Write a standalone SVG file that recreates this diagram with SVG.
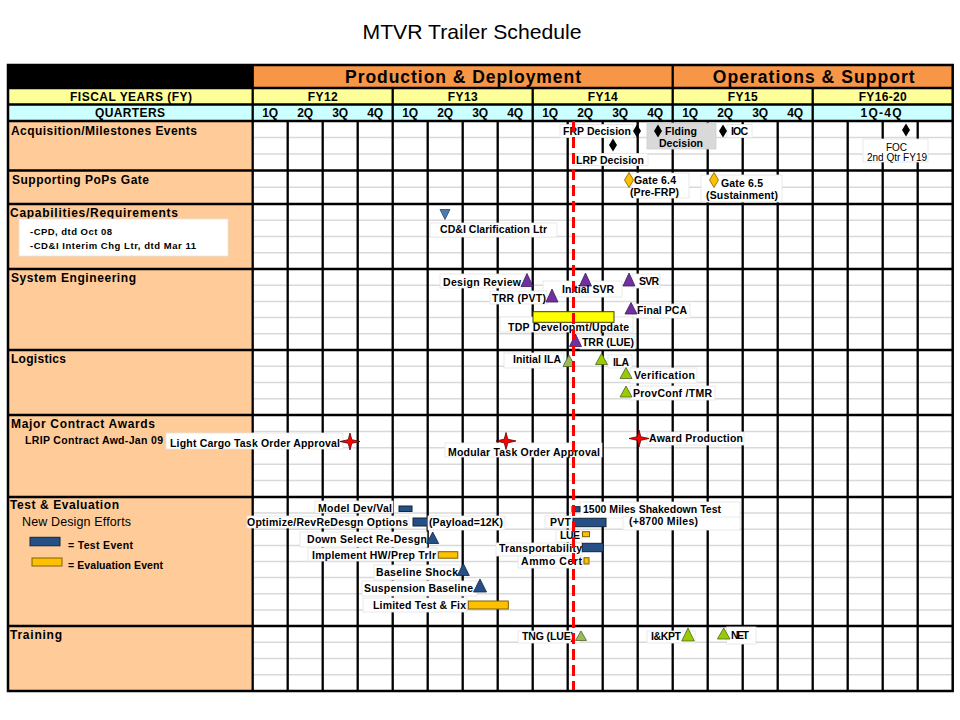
<svg xmlns="http://www.w3.org/2000/svg" xmlns:xlink="http://www.w3.org/1999/xlink" width="960" height="720" viewBox="0 0 960 720">
<style>
text{font-family:"Liberation Sans",Arial,Helvetica,sans-serif;fill:#000}
.b{font-weight:bold}
.l{font-size:10.5px;font-weight:bold}
.h{font-size:12px;font-weight:bold}
.box{fill:#fff;stroke:#e3e3e3;stroke-width:0.8}
.gbox{fill:#d9d9d9;stroke:#cfcfcf;stroke-width:0.8}
.pur{fill:#7030a0;stroke:#3c1a58;stroke-width:0.8}
.lg{fill:#9bbb59;stroke:#4f6228;stroke-width:0.8}
.bg{fill:#99cc00;stroke:#4f6228;stroke-width:0.8}
.bt{fill:#254f85;stroke:#10253f;stroke-width:0.8}
.bbar{fill:#254f85;stroke:#10253f;stroke-width:1}
.gbar{fill:#ffc000;stroke:#7f6000;stroke-width:1}
.ybar{fill:#ffff00;stroke:#404000;stroke-width:1}
.sub{stroke:#d9d9d9;stroke-width:1.5;fill:none}
.vl{stroke:#000;stroke-width:2.3;fill:none}
.hl{stroke:#000;stroke-width:2.5;fill:none}
</style>
<defs>
<path id="dia" d="M0,-6.5 L4,0 L0,6.5 L-4,0Z" fill="#000"/>
<path id="gdia" d="M0,-7.5 L4.5,0 L0,7.5 L-4.5,0Z" fill="#ffc000" stroke="#7f6000" stroke-width="0.8"/>
<path id="star" d="M-10,0 L-1.8,-1.8 L0,-8.5 L1.8,-1.8 L10,0 L1.8,1.8 L0,8.5 L-1.8,1.8Z" fill="#ff0000" stroke="#5a0000" stroke-width="0.8"/>
</defs>

<g id="title">
<text x="472" y="39.3" font-size="21" text-anchor="middle" textLength="219" lengthAdjust="spacingAndGlyphs">MTVR Trailer Schedule</text>
</g>

<g id="table">
<rect x="8" y="65" width="244.7" height="23" fill="#000"/>
<rect x="252.7" y="65" width="700" height="23" fill="#f79646"/>
<rect x="8" y="88" width="944.7" height="16.5" fill="#ffff99"/>
<rect x="8" y="104.5" width="944.7" height="16.5" fill="#ccffff"/>
<rect x="8" y="121" width="244.7" height="570" fill="#ffcc99"/>
<rect x="252.7" y="121" width="700" height="570" fill="#fff"/>
<path class="sub" d="M252.7,137.5H952.7M252.7,154H952.7M252.7,187.2H952.7M252.7,220.25H952.7M252.7,236.5H952.7M252.7,252.75H952.7M252.7,285.2H952.7M252.7,301.4H952.7M252.7,317.6H952.7M252.7,333.8H952.7M252.7,366.25H952.7M252.7,382.5H952.7M252.7,398.75H952.7M252.7,431.4H952.7M252.7,447.8H952.7M252.7,464.2H952.7M252.7,480.6H952.7M252.7,513.1H952.7M252.7,529.25H952.7M252.7,545.4H952.7M252.7,561.5H952.7M252.7,577.6H952.7M252.7,593.75H952.7M252.7,609.9H952.7M252.7,642.25H952.7M252.7,658.5H952.7M252.7,674.75H952.7"/>
<path class="vl" d="M287.7,121V691M322.7,121V691M357.7,121V691M392.7,88V691M427.7,121V691M462.7,121V691M497.7,121V691M532.7,88V691M567.7,121V691M602.7,121V691M637.7,121V691M672.7,65V691M707.7,121V691M742.7,121V691M777.7,121V691M812.7,88V691M847.7,121V691M882.7,121V691M917.7,121V691M252.7,65V691"/>
<path class="hl" d="M8,88H952.7M8,104.5H952.7M8,121H952.7M8,170.5H952.7M8,204H952.7M8,269H952.7M8,350H952.7M8,415H952.7M8,497H952.7M8,626H952.7"/>
<rect x="8" y="65" width="944.7" height="626" fill="none" stroke="#000" stroke-width="2.5"/>

<text x="463" y="82.7" font-size="17.5" class="b" text-anchor="middle" textLength="236">Production &amp; Deployment</text>
<text x="813.7" y="82.7" font-size="17.5" class="b" text-anchor="middle" textLength="202">Operations &amp; Support</text>

<text x="131" y="101" class="h" text-anchor="middle" textLength="122">FISCAL YEARS (FY)</text>
<text x="322.7" y="101" class="h" text-anchor="middle" textLength="30">FY12</text>
<text x="462.7" y="101" class="h" text-anchor="middle" textLength="30">FY13</text>
<text x="602.7" y="101" class="h" text-anchor="middle" textLength="30">FY14</text>
<text x="742.7" y="101" class="h" text-anchor="middle" textLength="30">FY15</text>
<text x="882.7" y="101" class="h" text-anchor="middle" textLength="48">FY16-20</text>

<text x="130" y="117.3" class="h" text-anchor="middle" textLength="70">QUARTERS</text>
<g class="h" text-anchor="middle">
<text x="270.2" y="117.3">1Q</text><text x="305.2" y="117.3">2Q</text><text x="340.2" y="117.3">3Q</text><text x="375.2" y="117.3">4Q</text>
<text x="410.2" y="117.3">1Q</text><text x="445.2" y="117.3">2Q</text><text x="480.2" y="117.3">3Q</text><text x="515.2" y="117.3">4Q</text>
<text x="550.2" y="117.3">1Q</text><text x="585.2" y="117.3">2Q</text><text x="620.2" y="117.3">3Q</text><text x="655.2" y="117.3">4Q</text>
<text x="690.2" y="117.3">1Q</text><text x="725.2" y="117.3">2Q</text><text x="760.2" y="117.3">3Q</text><text x="795.2" y="117.3">4Q</text>
</g>
<text x="881" y="117.3" class="h" text-anchor="middle" textLength="41">1Q-4Q</text>

<text x="11" y="135" class="h" textLength="186">Acquisition/Milestones Events</text>
<text x="12" y="184" class="h" textLength="137">Supporting PoPs Gate</text>
<text x="10" y="216.7" class="h" textLength="168">Capabilities/Requirements</text>
<text x="11" y="281.7" class="h" textLength="125">System Engineering</text>
<text x="11" y="363" class="h" textLength="55">Logistics</text>
<text x="11" y="427.5" class="h" textLength="144">Major Contract Awards</text>
<text x="10" y="509" class="h" textLength="109">Test &amp; Evaluation</text>
<text x="22" y="526" font-size="12.5" textLength="109">New Design Efforts</text>
<text x="10" y="639" class="h" textLength="52">Training</text>
</g>

<g id="cap-note">
<rect x="19" y="219" width="209" height="37" fill="#fff" stroke="#e3e3e3" stroke-width="0.8"/>
<text x="30" y="235" font-size="9.5" class="b" textLength="82">-CPD, dtd Oct 08</text>
<text x="30" y="249" font-size="9.5" class="b" textLength="166">-CD&amp;I Interim Chg Ltr, dtd Mar 11</text>
</g>

<g id="lrip-note">
<text x="25" y="444" class="l" textLength="138">LRIP Contract Awd-Jan 09</text>
</g>

<g id="legend">
<rect x="30" y="537.3" width="30" height="8.5" class="bbar"/>
<text x="68" y="549.3" class="l" textLength="65">= Test Event</text>
<rect x="32" y="558" width="30" height="8" class="gbar"/>
<text x="68" y="569" class="l" textLength="95">= Evaluation Event</text>
</g>

<g id="connectors"></g>

<g id="frp-decision">
<rect x="560" y="124.5" width="73" height="13" class="box"/>
<text x="563" y="134.5" class="l" textLength="68">FRP Decision</text>
<use xlink:href="#dia" x="637" y="131"/>
</g>
<g id="lrp-decision">
<rect x="573" y="153.5" width="75" height="12" class="box"/>
<text x="576" y="163.5" class="l" textLength="68">LRP Decision</text>
<use xlink:href="#dia" x="613" y="145"/>
</g>
<g id="flding-decision">
<rect x="647" y="123" width="69" height="26" class="gbox"/>
<use xlink:href="#dia" x="658" y="131"/>
<text x="665" y="135" class="l" textLength="32">Flding</text>
<text x="659" y="147" class="l" textLength="44">Decision</text>
</g>
<g id="ioc">
<rect x="727" y="124.5" width="25" height="13" class="box"/>
<use xlink:href="#dia" x="723" y="131"/>
<text x="731" y="134.5" class="l" textLength="17">IOC</text>
</g>
<g id="foc">
<use xlink:href="#dia" x="906" y="130"/>
<rect x="863" y="139" width="65" height="23" class="box"/>
<text x="896.5" y="150.5" font-size="10" text-anchor="middle">FOC</text>
<text x="897" y="160.5" font-size="10" text-anchor="middle" textLength="60">2nd Qtr FY19</text>
</g>

<g id="gate-6-4">
<rect x="632" y="173" width="57" height="25" class="box"/>
<use xlink:href="#gdia" x="629" y="180"/>
<text x="634" y="184" class="l" textLength="42">Gate 6.4</text>
<text x="630" y="195.5" class="l" textLength="49">(Pre-FRP)</text>
</g>
<g id="gate-6-5">
<rect x="701" y="175" width="81" height="27" class="box"/>
<use xlink:href="#gdia" x="714" y="180"/>
<text x="721" y="187" class="l" textLength="42">Gate 6.5</text>
<text x="706" y="199" class="l" textLength="72">(Sustainment)</text>
</g>

<g id="cdi-clarification">
<polygon points="440,209.5 450,209.5 445,219.5" fill="#4f7bab" stroke="#2a4a70" stroke-width="0.8"/>
<rect x="430" y="223" width="127" height="14" class="box"/>
<text x="440" y="233.3" class="l" textLength="107">CD&amp;I Clarification  Ltr</text>
</g>

<g id="design-review">
<rect x="440" y="274" width="86" height="14" class="box"/>
<text x="443" y="285.5" class="l" textLength="78">Design Review</text>
<polygon points="527,273.5 533,286.5 521,286.5" class="pur"/>
</g>
<g id="initial-svr">
<rect x="543" y="281" width="79" height="16" class="box"/>
<polygon points="585.5,273 591.5,286 579.5,286" class="pur"/>
<text x="562" y="293.3" class="l" textLength="52">Initial SVR</text>
</g>
<g id="svr">
<rect x="632" y="274" width="28" height="14" class="box"/>
<polygon points="629,273 635,286 623,286" class="pur"/>
<text x="639" y="285.3" class="l" textLength="20">SVR</text>
</g>
<g id="trr-pvt">
<rect x="490" y="291" width="57" height="13" class="box"/>
<text x="492" y="301.5" class="l" textLength="54">TRR (PVT)</text>
<polygon points="552,289 558,302 546,302" class="pur"/>
</g>
<g id="final-pca">
<rect x="633" y="304" width="57" height="14" class="box"/>
<polygon points="631,302.5 637,314 625,314" class="pur"/>
<text x="637" y="314" class="l" textLength="50">Final PCA</text>
</g>
<g id="tdp-development">
<rect x="500" y="317" width="133" height="15" class="box"/>
<rect x="533" y="311.7" width="81" height="10.6" class="ybar"/>
<text x="508" y="331" class="l" textLength="121">TDP Developmt/Update</text>
</g>
<g id="trr-lue">
<rect x="580" y="336" width="55" height="13" class="box"/>
<polygon points="575.5,334 581.5,346.5 569.5,346.5" class="pur"/>
<text x="582" y="346.3" class="l" textLength="52">TRR (LUE)</text>
</g>

<g id="initial-ila">
<rect x="504" y="353" width="60" height="15" class="box"/>
<text x="513" y="363.3" class="l" textLength="48">Initial ILA</text>
<polygon points="569,355 575,366.5 563,366.5" class="lg"/>
</g>
<g id="ila">
<rect x="608" y="355" width="24" height="13" class="box"/>
<polygon points="601.5,353.5 607.5,364.5 595.5,364.5" class="bg"/>
<text x="613" y="366" class="l" textLength="16">ILA</text>
</g>
<g id="verification">
<rect x="630" y="368" width="67" height="15" class="box"/>
<polygon points="626,367.5 632,378.5 620,378.5" class="bg"/>
<text x="634" y="378.7" class="l" textLength="61">Verification</text>
</g>
<g id="provconf-tmr">
<rect x="630" y="386" width="85" height="14" class="box"/>
<polygon points="626,386 632,397 620,397" class="bg"/>
<text x="633" y="396.8" class="l" textLength="79">ProvConf /TMR</text>
</g>

<g id="light-cargo-approval">
<rect x="166" y="433" width="177" height="16" class="box"/>
<text x="170" y="446.5" class="l" textLength="170">Light Cargo Task Order Approval</text>
<use xlink:href="#star" x="350" y="441.5"/>
</g>
<g id="modular-approval">
<rect x="445" y="443" width="157" height="14" class="box"/>
<use xlink:href="#star" x="506" y="441"/>
<text x="448" y="456" class="l" textLength="152">Modular Task Order Approval</text>
</g>
<g id="award-production">
<rect x="647" y="432" width="97" height="13" class="box"/>
<use xlink:href="#star" x="639" y="438.5"/>
<text x="649" y="442.3" class="l" textLength="94">Award Production</text>
</g>

<g id="model-dev-val">
<rect x="315" y="501" width="78" height="12" class="box"/>
<text x="318" y="512.3" class="l" textLength="74">Model Dev/Val</text>
<rect x="399" y="506" width="13" height="5.5" class="bbar"/>
</g>
<g id="optimize-redesign">
<rect x="247" y="516" width="162" height="12" class="box"/>
<text x="247" y="525.8" class="l" textLength="161">Optimize/RevReDesgn Options</text>
<rect x="413" y="518" width="15" height="8" class="bbar"/>
<rect x="428" y="516" width="77" height="14" class="box"/>
<text x="429" y="526" class="l" textLength="74">(Payload=12K)</text>
</g>
<g id="down-select">
<rect x="300" y="532" width="127" height="15" class="box"/>
<text x="307" y="543" class="l" textLength="120">Down Select Re-Desgn</text>
<polygon points="432.7,532 438.7,543.5 426.7,543.5" class="bt"/>
</g>
<g id="implement-hw">
<rect x="308" y="548" width="129" height="13" class="box"/>
<text x="312" y="559" class="l" textLength="124">Implement HW/Prep Trlr</text>
<rect x="438.3" y="551.7" width="19.5" height="6.5" class="gbar"/>
</g>
<g id="baseline-shock">
<rect x="374" y="565" width="86" height="15" class="box"/>
<text x="376" y="575.7" class="l" textLength="82">Baseline Shock</text>
<polygon points="463.3,563.5 469.3,575.5 457.3,575.5" class="bt"/>
</g>
<g id="suspension-baseline">
<rect x="362" y="581" width="115" height="15" class="box"/>
<text x="364" y="591.7" class="l" textLength="109">Suspension Baseline</text>
<polygon points="480,579 486.5,592 473.5,592" class="bt"/>
</g>
<g id="limited-test-fix">
<rect x="363" y="598" width="104" height="14" class="box"/>
<text x="373" y="609" class="l" textLength="93">Limited Test &amp; Fix</text>
<rect x="468.3" y="601" width="40" height="8" class="gbar"/>
</g>
<g id="shakedown-test">
<rect x="580" y="502" width="160" height="16" class="box"/>
<rect x="572" y="506.7" width="8" height="5" class="bbar"/>
<text x="583" y="513.3" class="l" textLength="138">1500 Miles Shakedown Test</text>
<rect x="623" y="517" width="117" height="13" class="box"/>
<text x="629" y="525" class="l" textLength="69">(+8700 Miles)</text>
</g>
<g id="pvt">
<rect x="545" y="516" width="28" height="12" class="box"/>
<text x="550" y="525.7" class="l" textLength="21">PVT</text>
<rect x="573" y="518.3" width="33" height="8.4" class="bbar"/>
</g>
<g id="lue">
<rect x="556" y="530" width="26" height="12" class="box"/>
<text x="560" y="539" class="l" textLength="20">LUE</text>
<rect x="582.5" y="531.7" width="7" height="5" class="gbar"/>
</g>
<g id="transportability">
<rect x="496" y="543" width="86" height="13" class="box"/>
<text x="499" y="552.3" class="l" textLength="83">Transportability</text>
<rect x="582.3" y="543.3" width="21" height="8.4" class="bbar"/>
</g>
<g id="ammo-cert">
<rect x="518" y="556" width="64" height="12" class="box"/>
<text x="521" y="565" class="l" textLength="61">Ammo Cert</text>
<rect x="584" y="557.7" width="5" height="6.3" class="gbar"/>
</g>

<g id="tng-lue">
<rect x="518" y="631" width="62" height="12" class="box"/>
<text x="522" y="640" class="l" textLength="52">TNG (LUE)</text>
<polygon points="581,631 586.5,640.5 575.5,640.5" class="lg"/>
</g>
<g id="ikpt">
<rect x="647" y="631" width="48" height="12" class="box"/>
<text x="651" y="640" class="l" textLength="30">I&amp;KPT</text>
<polygon points="688,628 694.3,641 681.7,641" class="bg"/>
</g>
<g id="net">
<rect x="726.7" y="627" width="29.3" height="17" class="box"/>
<polygon points="723.7,628 730,639 717.4,639" class="bg"/>
<text x="731" y="639.3" class="l" textLength="18">NET</text>
</g>

<g id="status-line">
<line x1="573.5" y1="121" x2="573.5" y2="690" stroke="#ff0000" stroke-width="3" stroke-dasharray="11 5"/>
</g>
</svg>
